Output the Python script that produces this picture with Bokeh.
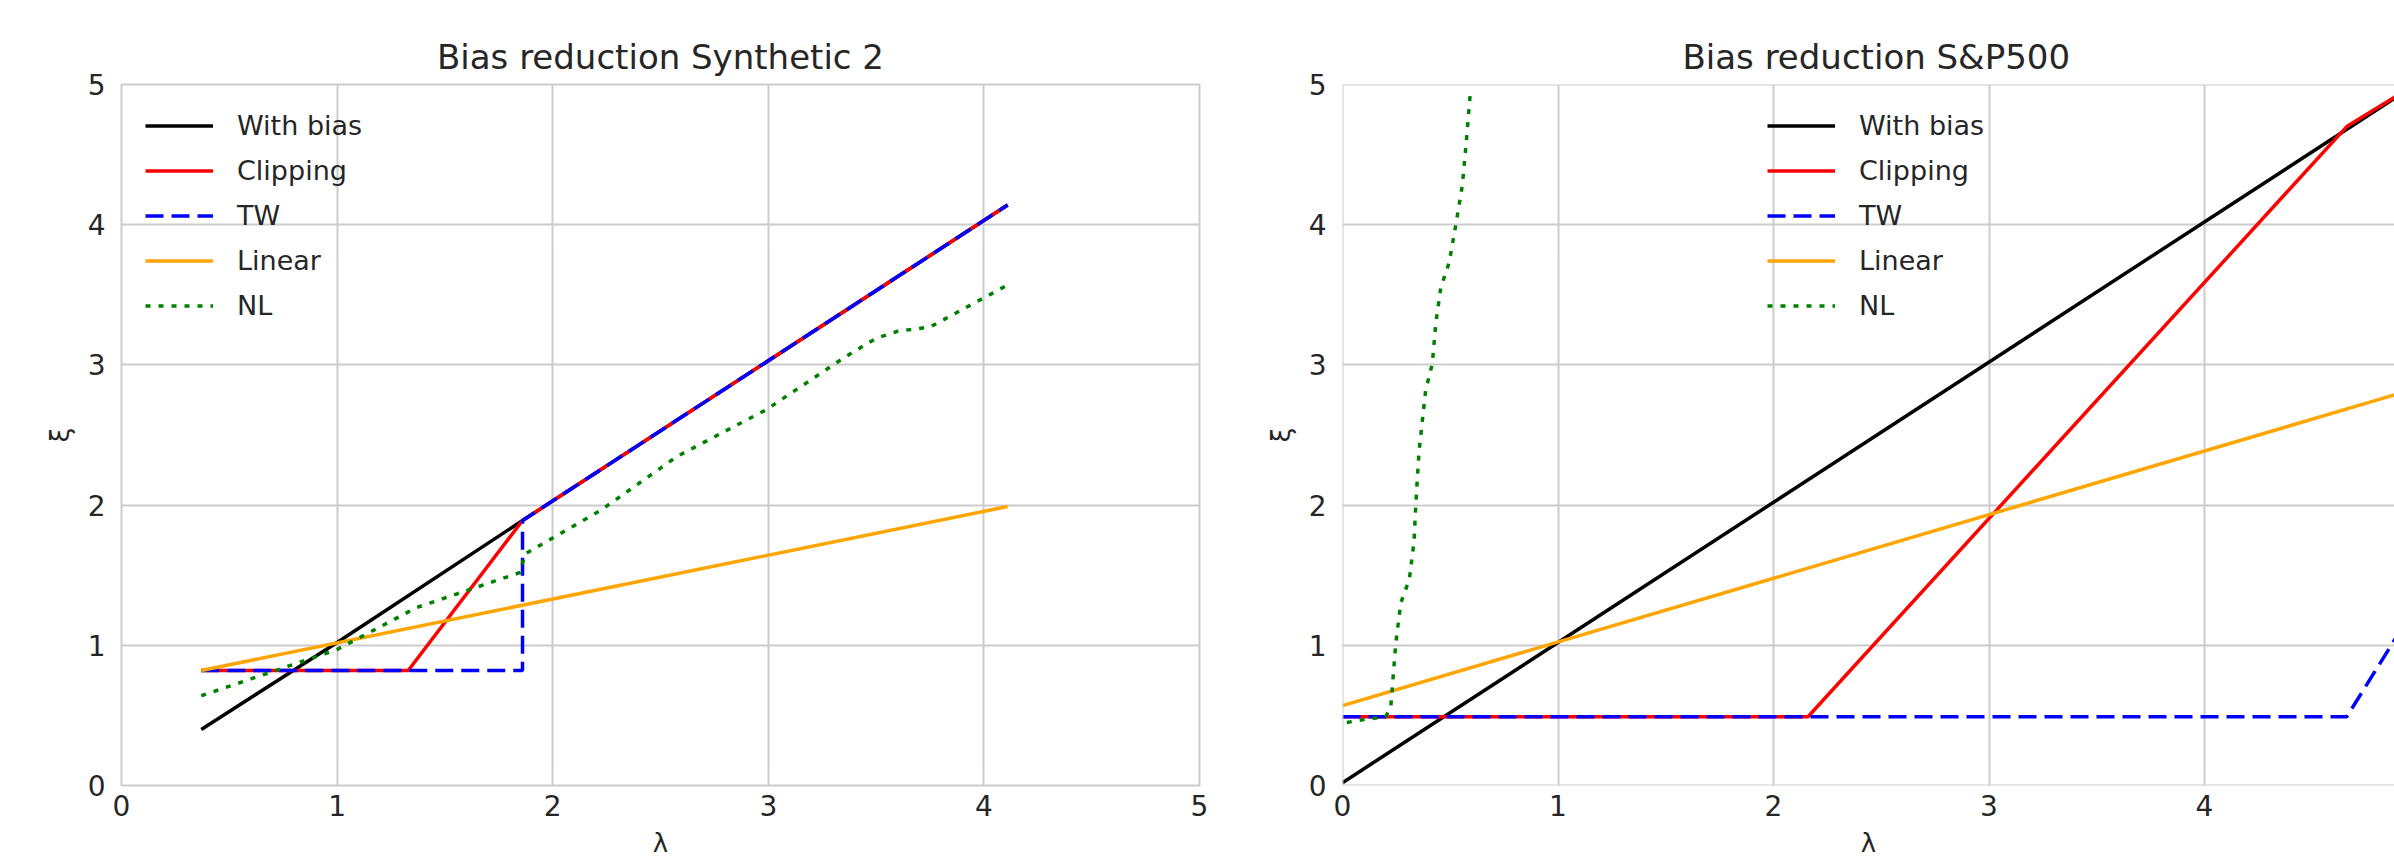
from bokeh.plotting import figure
from bokeh.layouts import row
from bokeh.models import Range1d, FixedTicker, Legend, LegendItem, Span
from bokeh.embed import file_html
from bokeh.resources import INLINE

# ---------------- data ----------------
series_names = ["With bias", "Clipping", "TW", "Linear", "NL"]
ticks = [0, 1, 2, 3, 4, 5]

# Left: Bias reduction Synthetic 2
syn_bias_x = [0.37, 1.0, 1.86, 4.11]
syn_bias_y = [0.40, 1.02, 1.89, 4.14]
syn_clip_x = [0.37, 1.33, 1.86, 4.11]
syn_clip_y = [0.82, 0.82, 1.89, 4.14]
syn_tw_x = [0.37, 1.86, 1.86, 4.11]
syn_tw_y = [0.82, 0.82, 1.89, 4.14]
syn_lin_x = [0.37, 4.11]
syn_lin_y = [0.82, 1.99]
syn_nl_x = [0.37, 0.6, 1.0, 1.37, 1.85, 1.87, 2.22, 2.58, 2.99, 3.36, 3.5, 3.6, 3.75, 4.11]
syn_nl_y = [0.64, 0.76, 0.97, 1.27, 1.52, 1.65, 1.96, 2.35, 2.68, 3.06, 3.19, 3.24, 3.27, 3.57]

# Right: Bias reduction S&P500
sp_bias_x = [0.0, 5.0]
sp_bias_y = [0.02, 5.02]
sp_clip_x = [0.0, 2.16, 4.66, 5.0]
sp_clip_y = [0.49, 0.49, 4.70, 5.02]
sp_tw_x = [0.0, 4.66, 5.0]
sp_tw_y = [0.49, 0.49, 1.33]
sp_lin_x = [0.0, 5.0]
sp_lin_y = [0.57, 2.84]
sp_nl_x = [0.02, 0.1, 0.2, 0.224, 0.247, 0.27, 0.31, 0.332, 0.34, 0.355, 0.386, 0.417,
           0.433, 0.456, 0.495, 0.526, 0.556, 0.575, 0.592]
sp_nl_y = [0.45, 0.47, 0.49, 0.56, 1.01, 1.30, 1.47, 1.74, 2.0, 2.38, 2.82, 3.01,
           3.30, 3.55, 3.73, 4.0, 4.28, 4.6, 4.92]

# ---------------- style ----------------
FONT = "DejaVu Sans"
TXT = "#262626"
GRID = "#cccccc"
styles = [
    dict(color="#000000", dash="solid"),
    dict(color="#ff0000", dash="solid"),
    dict(color="#0000ff", dash="18 8"),
    dict(color="#ffa500", dash="solid"),
    dict(color="#008000", dash="5 8"),
]


def make_fig(title, width, frame_w_units, border_left, border_right, xs, ys, legend_x, outline=True):
    p = figure(width=width, height=861, output_backend="svg", toolbar_location=None,
               x_range=Range1d(0, frame_w_units), y_range=Range1d(0, 5),
               min_border_left=border_left, min_border_right=border_right,
               min_border_top=84, min_border_bottom=76)
    p.title.text = title
    p.title.text_font = FONT
    p.title.text_font_size = "34px"
    p.title.text_font_style = "normal"
    p.title.text_color = TXT
    p.title.standoff = 15
    p.background_fill_color = "white"
    p.border_fill_color = "white"
    if outline:
        p.outline_line_color = GRID
        p.outline_line_width = 2
    else:
        p.outline_line_color = None
        for loc, dim in [(0, "height"), (0, "width"), (5, "width")]:
            p.add_layout(Span(location=loc, dimension=dim, line_color=GRID, line_width=2))
    for ax in (p.xaxis[0], p.yaxis[0]):
        ax.ticker = FixedTicker(ticks=ticks)
        ax.axis_line_color = None
        ax.major_tick_line_color = None
        ax.minor_tick_line_color = None
        ax.major_label_text_font = FONT
        ax.major_label_text_font_size = "28px"
        ax.major_label_text_color = TXT
        ax.axis_label_text_font = FONT
        ax.axis_label_text_font_size = "26px"
        ax.axis_label_text_font_style = "normal"
        ax.axis_label_text_color = TXT
    p.xaxis[0].axis_label = "λ"
    p.yaxis[0].axis_label = "ξ"
    p.xaxis[0].major_label_standoff = 3
    p.xaxis[0].axis_label_standoff = 9
    p.yaxis[0].major_label_standoff = 10
    p.yaxis[0].axis_label_standoff = 10
    p.grid.grid_line_color = GRID
    p.grid.grid_line_width = 2
    p.xgrid.ticker = FixedTicker(ticks=ticks)
    p.ygrid.ticker = FixedTicker(ticks=ticks)

    items = []
    for name, x, y, st in zip(series_names, xs, ys, styles):
        r = p.line(x, y, line_color=st["color"], line_width=3.5, line_dash=st["dash"])
        items.append(LegendItem(label=name, renderers=[r]))
    leg = Legend(items=items, location=(legend_x, 463), orientation="vertical",
                 background_fill_alpha=0, border_line_color=None,
                 label_text_font=FONT, label_text_font_size="27px", label_text_color=TXT,
                 glyph_width=68, glyph_height=33, label_height=33, spacing=12,
                 label_standoff=24, padding=0, margin=0)
    p.add_layout(leg, "center")
    return p


p1 = make_fig("Bias reduction Synthetic 2", 1209, 5.0, 121, 10,
              [syn_bias_x, syn_clip_x, syn_tw_x, syn_lin_x, syn_nl_x],
              [syn_bias_y, syn_clip_y, syn_tw_y, syn_lin_y, syn_nl_y], 24)
p1.title.align = "center"

p2 = make_fig("Bias reduction S&P500", 1185, 1052 / 215.5, 133, 0,
              [sp_bias_x, sp_clip_x, sp_tw_x, sp_lin_x, sp_nl_x],
              [sp_bias_y, sp_clip_y, sp_tw_y, sp_lin_y, sp_nl_y], 425, outline=False)
p2.title.align = "left"
p2.title.offset = 340

layout = row(p1, p2)
open("out.html", "w").write(file_html(layout, INLINE))
